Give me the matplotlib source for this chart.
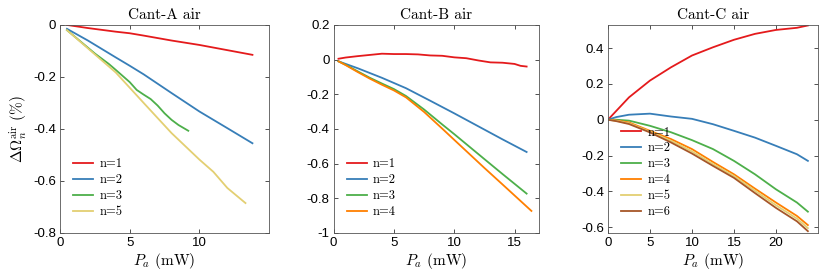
import numpy as np
import matplotlib.pyplot as plt

plt.rcParams['mathtext.fontset'] = 'cm'
plt.rcParams['font.family'] = ['Liberation Sans', 'DejaVu Sans']
plt.rcParams['axes.unicode_minus'] = False

cores = {1: '#e41a1c', 2: '#377eb8', 3: '#4daf4a', 4: '#ff7f00', 5: '#e3cf72', 6: '#a65628'}

# Cant-A
A_x1 = [0.5, 2, 4, 5, 6, 8, 10, 12, 13.8]
A_y1 = [0.0, -0.012, -0.026, -0.032, -0.041, -0.060, -0.077, -0.097, -0.115]
A_x2 = [0.5, 2, 4, 5, 6, 8, 10, 12, 13.8]
A_y2 = [-0.015, -0.06, -0.125, -0.157, -0.19, -0.262, -0.333, -0.397, -0.455]
A_x3 = [0.5, 1.5, 2.5, 3.5, 4, 5, 5.5, 6, 6.5, 7, 7.5, 8, 8.5, 9.2]
A_y3 = [-0.02, -0.065, -0.11, -0.15, -0.173, -0.22, -0.25, -0.268, -0.285, -0.31, -0.34, -0.365, -0.385, -0.407]
A_x5 = [0.5, 2, 4, 6, 8, 9, 10, 11, 12, 13.3]
A_y5 = [-0.02, -0.09, -0.183, -0.30, -0.416, -0.467, -0.518, -0.565, -0.627, -0.685]

# Cant-B
B_x1 = [0.4, 1, 2, 3, 4, 5, 6, 7, 8, 9, 10, 11, 12, 13, 14, 15, 15.5, 16]
B_y1 = [0.005, 0.012, 0.02, 0.027, 0.034, 0.032, 0.032, 0.03, 0.024, 0.022, 0.013, 0.008, -0.005, -0.016, -0.018, -0.025, -0.036, -0.04]
B_x2 = [0.4, 2, 4, 5, 6, 8, 10, 12, 14, 16]
B_y2 = [-0.01, -0.05, -0.105, -0.135, -0.165, -0.237, -0.31, -0.385, -0.46, -0.533]
B_x3 = [0.4, 1, 2, 3, 4, 5, 6, 7.5, 9, 10, 12.5, 14, 16]
B_y3 = [-0.01, -0.03, -0.068, -0.105, -0.138, -0.17, -0.21, -0.288, -0.374, -0.43, -0.574, -0.66, -0.773]
B_x4 = [0.4, 1, 2, 3, 4, 5, 6, 7.5, 9, 10, 12.5, 14, 16.4]
B_y4 = [-0.01, -0.032, -0.072, -0.11, -0.145, -0.178, -0.218, -0.302, -0.398, -0.463, -0.625, -0.72, -0.873]

# Cant-C
C_x = [0, 1, 2.5, 5, 7.5, 10, 12.5, 15, 17.5, 20, 22.5, 23.8]
C_y1 = [0.0, 0.05, 0.125, 0.219, 0.293, 0.359, 0.405, 0.447, 0.48, 0.502, 0.514, 0.527]
C_y2 = [0.0, 0.015, 0.028, 0.034, 0.018, 0.005, -0.025, -0.062, -0.1, -0.146, -0.193, -0.23]
C_y3 = [0.0, 0.0, -0.005, -0.034, -0.07, -0.114, -0.164, -0.23, -0.305, -0.389, -0.463, -0.514]
C_y4 = [0.0, -0.004, -0.015, -0.062, -0.108, -0.164, -0.236, -0.305, -0.385, -0.463, -0.538, -0.589]
C_y5 = [0.0, -0.006, -0.02, -0.067, -0.118, -0.177, -0.248, -0.315, -0.397, -0.478, -0.553, -0.606]
C_y6 = [0.0, -0.008, -0.024, -0.071, -0.127, -0.189, -0.258, -0.325, -0.41, -0.493, -0.568, -0.623]

fig = plt.figure(figsize=(8.3, 2.77), dpi=100)
axA = fig.add_axes([0.0723, 0.159, 0.252, 0.751])
axB = fig.add_axes([0.402, 0.159, 0.247, 0.751])
axC = fig.add_axes([0.7325, 0.159, 0.253, 0.751])

lw = 1.3
axA.plot(A_x1, A_y1, color=cores[1], lw=lw, label='n=1')
axA.plot(A_x2, A_y2, color=cores[2], lw=lw, label='n=2')
axA.plot(A_x3, A_y3, color=cores[3], lw=lw, label='n=3')
axA.plot(A_x5, A_y5, color=cores[5], lw=lw, label='n=5')
axA.set_xlim(0, 15)
axA.set_ylim(-0.8, 0)
axA.set_xticks([0, 5, 10])
axA.set_yticks([-0.8, -0.6, -0.4, -0.2, 0])
axA.set_yticklabels(['-0.8', '-0.6', '-0.4', '-0.2', '0'])
axA.set_title('Cant-A air', family='cmr10', fontsize=11, pad=4)
axA.set_ylabel(r'$\Delta\Omega_n^{\rm air}$ (%)', family='cmr10', fontsize=11, labelpad=2)

axB.plot(B_x1, B_y1, color=cores[1], lw=lw, label='n=1')
axB.plot(B_x2, B_y2, color=cores[2], lw=lw, label='n=2')
axB.plot(B_x3, B_y3, color=cores[3], lw=lw, label='n=3')
axB.plot(B_x4, B_y4, color=cores[4], lw=lw, label='n=4')
axB.set_xlim(0, 17)
axB.set_ylim(-1, 0.2)
axB.set_xticks([0, 5, 10, 15])
axB.set_yticks([-1, -0.8, -0.6, -0.4, -0.2, 0, 0.2])
axB.set_yticklabels(['-1', '-0.8', '-0.6', '-0.4', '-0.2', '0', '0.2'])
axB.set_title('Cant-B air', family='cmr10', fontsize=11, pad=4)

axC.plot(C_x, C_y1, color=cores[1], lw=lw, label='n=1')
axC.plot(C_x, C_y2, color=cores[2], lw=lw, label='n=2')
axC.plot(C_x, C_y3, color=cores[3], lw=lw, label='n=3')
axC.plot(C_x, C_y4, color=cores[4], lw=lw, label='n=4')
axC.plot(C_x, C_y5, color=cores[5], lw=lw, label='n=5')
axC.plot(C_x, C_y6, color=cores[6], lw=lw, label='n=6')
axC.set_xlim(0, 25)
axC.set_ylim(-0.633, 0.53)
axC.set_xticks([0, 5, 10, 15, 20])
axC.set_yticks([-0.6, -0.4, -0.2, 0, 0.2, 0.4])
axC.set_yticklabels(['-0.6', '-0.4', '-0.2', '0', '0.2', '0.4'])
axC.set_title('Cant-C air', family='cmr10', fontsize=11, pad=4)

for ax in (axA, axB, axC):
    ax.set_xlabel(r'$P_a$ (mW)', family='cmr10', fontsize=11, labelpad=1)
    ax.tick_params(direction='in', top=True, right=True, length=3, width=0.6,
                   labelsize=9.5, color='#333333', pad=3)
    for s in ax.spines.values():
        s.set_linewidth(0.6)
        s.set_color('#555555')
    ax.legend(loc='lower left', frameon=False, prop={'family': 'cmr10', 'size': 9},
              handlelength=1.6, handletextpad=0.5, labelspacing=0.3,
              borderaxespad=0.3, bbox_to_anchor=(0.02, 0.03))

fig.savefig('out.png', dpi=100)
